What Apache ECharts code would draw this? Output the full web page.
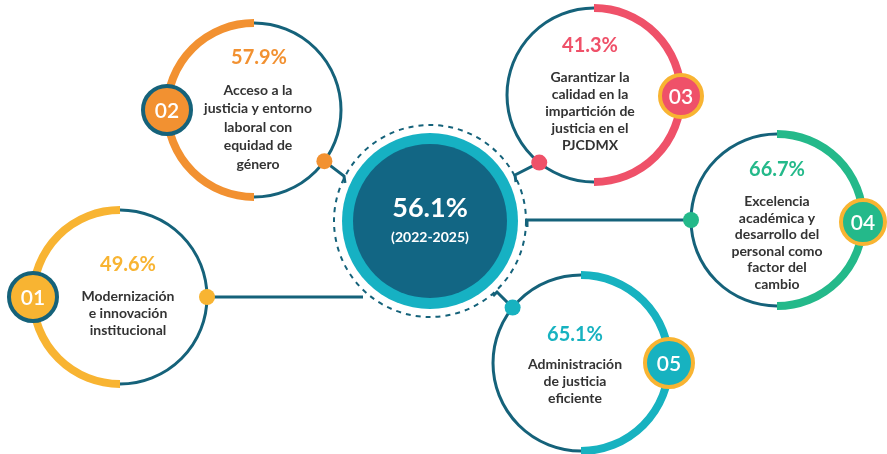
<!DOCTYPE html>
<html>
<head>
<meta charset="utf-8">
<script src="https://cdn.jsdelivr.net/npm/echarts@6/dist/echarts.min.js"></script>
<style>
  html, body { margin: 0; padding: 0; background: #fff; }
  #main { width: 887px; height: 454px; }
</style>
</head>
<body>
<div id="main"></div>
<script>
// datos
const codes = ['01', '02', '03', '04', '05']
const pcts = [49.6, 57.9, 41.3, 66.7, 65.1]
const titles = [
  'Modernización\ne innovación\ninstitucional',
  'Acceso a la\njusticia y entorno\nlaboral con\nequidad de\ngénero',
  'Garantizar la\ncalidad en la\nimpartición de\njusticia en el\nPJCDMX',
  'Excelencia\nacadémica y\ndesarrollo del\npersonal como\nfactor del\ncambio',
  'Administración\nde justicia\neficiente'
]
const total = 56.1
const period = '(2022-2025)'

// colores y layout
const dark = '#15627a'
const yellow = '#f8b432'
const colors = [yellow, '#f29131', '#ef5169', '#24b98a', '#17b2c0']
const edges = [dark, dark, yellow, yellow, yellow]
const FONT = 'Lato, "Open Sans", sans-serif'
const center = { x: 430, y: 221 }

const layout = [
  { cx: 120, cy: 297, r: 87, left: true, br: 26, dot: 0, pct: [128, 265], txt: [128, 313.5], lh: 16.8, end: [363, 297], cap: null },
  { cx: 254, cy: 110, r: 87, left: true, br: 26, dot: 36, pct: [259, 58], txt: [258, 127], lh: 18.5, end: [344, 176], cap: [345, 183] },
  { cx: 594, cy: 95, r: 87, left: false, br: 23, dot: 129, pct: [590, 46], txt: [590, 111.5], lh: 16.8, end: [515, 175], cap: [516, 182] },
  { cx: 777, cy: 220, r: 86, left: false, br: 24, dot: 180, pct: [777, 170], txt: [777, 243], lh: 16.5, end: [527, 220], cap: [527, 227] },
  { cx: 581, cy: 363, r: 88, left: false, br: 26, dot: 219, pct: [575, 335], txt: [575, 381.5], lh: 16.8, end: [497, 292], cap: [493, 296] }
]

const els = []

// circulo central
els.push({ type: 'circle', z: 5, shape: { cx: center.x, cy: center.y, r: 96 }, style: { fill: null, stroke: dark, lineWidth: 2, lineDash: [5, 5] } })
els.push({ type: 'circle', z: 6, shape: { cx: center.x, cy: center.y, r: 88 }, style: { fill: '#16b1c3' } })
els.push({ type: 'circle', z: 7, shape: { cx: center.x, cy: center.y, r: 77 }, style: { fill: '#126684' } })
els.push({ type: 'text', z: 8, x: center.x, y: 208, style: { text: total + '%', fill: '#fff', font: 'bold 27px ' + FONT, align: 'center', verticalAlign: 'middle' } })
els.push({ type: 'text', z: 8, x: center.x, y: 237, style: { text: period, fill: '#fff', font: 'bold 14px ' + FONT, align: 'center', verticalAlign: 'middle' } })

layout.forEach(function (c, i) {
  const a = c.dot * Math.PI / 180
  const dx = c.cx + c.r * Math.cos(a)
  const dy = c.cy + c.r * Math.sin(a)
  // conector
  const pts = [[dx, dy], c.end]
  if (c.cap) pts.push(c.cap)
  els.push({ type: 'polyline', z: 2, shape: { points: pts }, style: { stroke: dark, lineWidth: 3, fill: null } })
  // anillo
  els.push({ type: 'circle', z: 3, shape: { cx: c.cx, cy: c.cy, r: c.r }, style: { fill: '#fff', stroke: dark, lineWidth: 3 } })
  els.push({
    type: 'arc', z: 4,
    shape: c.left
      ? { cx: c.cx, cy: c.cy, r: c.r, startAngle: Math.PI / 2, endAngle: Math.PI * 1.5, clockwise: true }
      : { cx: c.cx, cy: c.cy, r: c.r, startAngle: -Math.PI / 2, endAngle: Math.PI / 2, clockwise: true },
    style: { stroke: colors[i], lineWidth: 8, fill: null, lineCap: 'butt' }
  })
  // punto
  els.push({ type: 'circle', z: 9, shape: { cx: dx, cy: dy, r: 8 }, style: { fill: colors[i] } })
  // numero
  const bx = c.left ? c.cx - c.r : c.cx + c.r
  const by = i === 2 ? c.cy + 1 : (i === 3 ? c.cy + 2 : c.cy)
  els.push({ type: 'circle', z: 9, shape: { cx: bx, cy: by, r: c.br - 2 }, style: { fill: colors[i], stroke: edges[i], lineWidth: 4 } })
  els.push({ type: 'text', z: 10, x: bx, y: by + 1, style: { text: codes[i], fill: '#fff', font: '600 21px ' + FONT, align: 'center', verticalAlign: 'middle' } })
  // textos
  els.push({ type: 'text', z: 10, x: c.pct[0], y: c.pct[1], style: { text: pcts[i].toFixed(1) + '%', fill: colors[i], font: 'bold 20px ' + FONT, align: 'center', verticalAlign: 'middle' } })
  els.push({ type: 'text', z: 10, x: c.txt[0], y: c.txt[1], style: { text: titles[i], fill: '#333', font: 'bold 14px ' + FONT, lineHeight: c.lh, align: 'center', verticalAlign: 'middle' } })
})

const chart = echarts.init(document.getElementById('main'))
chart.setOption({
  backgroundColor: '#fff',
  animation: false,
  graphic: { elements: els }
})
</script>
</body>
</html>
